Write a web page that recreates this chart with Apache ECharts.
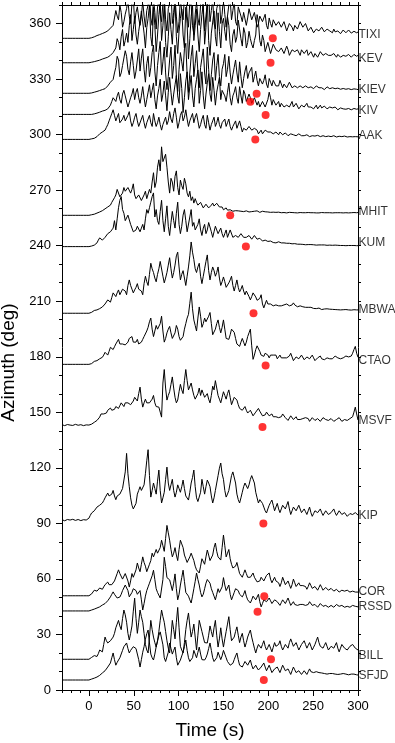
<!DOCTYPE html>
<html>
<head>
<meta charset="utf-8">
<script src="https://cdn.jsdelivr.net/npm/echarts@6/dist/echarts.min.js"></script>
<style>html,body{margin:0;padding:0;background:#fff}#c{width:395px;height:743px}</style>
</head>
<body>
<div id="c"></div>
<script>
// ---- data ----
const stations = ['TIXI','KEV','KIEV','KIV','AAK','MHIT','KUM','MBWA','CTAO','MSVF','KIP','COR','RSSD','BILL','SFJD'];
const stationAzimuth = [352.0,338.8,322.3,310.9,297.4,256.4,239.5,203.5,175.9,143.1,91.8,50.9,42.7,16.6,5.4];
const sampleStart = -30, sampleStep = 1.5, sampleCount = 221;

// envelope amplitude above each station's baseline (deg units), one value per 1.5 s from -30 s to 300 s
const offTIXI = [
0,0,0,0,0,0,0,0,0,0,0,0,0,0,0,0,0,0,0,0,
0,0.1,0.3,0.6,0.8,1.2,1.5,1.7,2,2.4,2.6,2.9,3.2,3.5,4,4.8,5.5,6.5,7,11,
15,12,10,18,14,6,9,13,16,21,12,8,19,23,8,14,17,11,7,12,
20,12,6,15,18,25,11,7,22,14,5,17,20,13,9,19,24,10,4,16,
19,26,8,14,22,12,3,9,21,15,10,23,25,12,6,20,18,7,2,13,
20,11,7,18,23,14,4,12,19,24,9,15,21,8,5,16,17,22,8,13,
22,13,6,12,18,21,10,15,20,9,7,17,16,12,9,14,14,7,11,16,
15,10,9,14,13,6,8,12,12,9,10,13,7,5,11,8,6,10,9,7,
7,9,10,6,5,9,8,4,6,8,9,6,4,7,7,5,5,9,8,6,
5,8,7,4,4,6,6,3,3.5,5,6,4,4,6,5,3.5,3,5,5,4,
4,3,5,3.5,3,4,4.5,2.5,3,4.5,4,3,3.5,4.5,4,2.8,3,3.8,3.5,3,
3.4];
const offKEV = [
0,0,0,0,0,0,0,0,0,0,0,0,0,0,0,0,0,0,0,0,
0,0.1,0.3,0.4,0.6,0.8,1,1.2,1.4,1.8,2,2.2,2.5,2.8,3,3.6,4,4.8,5.5,6.5,
8,13,11,7,14,18,9,12,16,11,20,26,12,18,25,15,10,17,22,28,
28,16,8,19,24,31,14,9,30,20,6,15,26,33,12,20,32,11,3,14,
27,18,10,24,33,14,5,17,24,29,15,8,30,21,2,13,25,31,12,20,
29,15,6,18,26,32,10,19,34,12,4,16,22,28,14,9,27,17,8,21,
24,17,12,25,20,10,6,15,18,11,14,23,22,13,9,19,16,8,11,17,
13,10,8,12,15,26,22,12,9,15,12,6,7,11,10,5,6,10,9,7,
8,6,5,8,9,5,6,9,7,4,4,7,8,6,5,7,6,4,7,8,
5,6,7,4,4,6,6,3,5,6,3,4,6,5,4,3,5,6,4,3,
4,3,5,4,3,4.5,4,3,3.5,4,5,3.5,3,4.5,4,3,3.5,4.5,4,3.5,
4];
const offKIEV = [
0,0,0,0,0,0,0,0,0,0,0,0,0,0,0,0,0,0,0,0,
0,0.1,0.2,0.4,0.6,0.8,1,1.2,1.5,1.8,2,2.2,2.5,3.2,4,5,6,6.8,7.5,11,
14,20,18,9,11,15,16,23,20,13,10,17,22,15,8,12,18,24,12,19,
24,13,6,16,20,9,14,22,26,12,4,15,22,28,10,17,25,11,2,9,
18,25,8,15,26,9,1,13,22,17,12,24,27,10,0.5,11,20,26,9,16,
23,12,3,14,19,24,11,5,25,13,1.5,10,18,22,7,15,21,9,4,13,
16,21,9,13,20,11,5,10,14,18,11,6,17,9,3,8,12,15,8,11,
10,14,6,9,12,7,4,8,9,5,7,10,5,3,8,6,4,7,6,4,
5,4,7,5,3,5,6,3,4,6,5,3,2.5,4,5,3,3,4,4.5,3,
3,4,5,3,2.5,3.5,4,2.5,3,4,4.5,3,2,3,3.5,2,2.5,3.5,3,2.5,
2.5,3,3.5,2.5,2,2.8,3,2.2,2,2.6,3,2.2,2,2.5,2.5,2,2,2.4,2,2.2,
2];
const offKIV = [
0,0,0,0,0,0,0,0,0,0,0,0,0,0,0,0,0,0,0,0,
0,0,0,0.1,0.3,0.5,0.7,1,1.2,1.5,1.8,2,2.2,2.6,3,4,5,7,9,8,
7,10,12,8,6,11,13,10,9,4,5,9,11,14,8,12,14,9,6,10,
15,9,4,8,12,16,9,13,17,8,3,10,14,19,7,11,18,10,2,12,
20,12,5,11,16,21,10,6,22,14,1,9,18,23,8,15,21,10,4,14,
19,24,6,13,23,10,3,11,17,22,11,7,20,13,5,12,16,20,8,13,
14,10,7,12,17,9,5,10,12,15,9,6,15,10,6,13,11,7,8,11,
9,6,5,9,10,5,7,4,4,7,8,4,3,8,12,9,5,8,7,5,
6,7,4,6,7,4,3,5,6,4,5,7,4,3,6,5,3,4,5,4,
4,5,6,4,3,4,5,3,4,5,3,4,5,3.5,3,4.5,4,3,3,4,
4,3.5,3,4,3.5,2.5,2.5,3.5,3,3,3.5,2.8,2.5,3.2,3,2.5,2.5,3.2,3,2.8,
3];
const offAAK = [
0,0,0,0,0,0,0,0,0,0,0,0,0,0,0,0,0,0,0,0,
0,0.1,0.3,0.4,0.6,1,1.5,2.2,3,3.6,4,4.4,5,6.5,8,10,12,14,16,13,
10,12,14,9,8,11,13,10,9,13,15,10,7,9,12,14,10,7,8,11,
13,9,6,9,11,13,9,7,14,10,7,9,12,8,5,8,10,12,8,10,
15,11,9,14,17,12,6,9,13,15,10,12,16,11,7,10,12,14,9,12,
14,10,6,8,11,13,8,6,13,9,5,8,10,12,7,9,12,8,6,9,
9,11,7,9,11,7,5,7,8,10,6,5,10,7,4,6,7,5,5,7,
6,5,4,6,7,5,3,4,5,3,4,5,6,4,3,4,4,3,3,4,
3,2.5,4,3,2.5,3,3.5,2.5,2,2.5,3,2.2,2.5,3,2,2.5,3,2.2,2,2.4,
2,2.2,2.5,1.8,1.5,1.9,2,1.6,1.8,2.1,2.2,1.7,1.5,1.8,2,1.6,1.5,1.9,1.8,1.6,
1.5,1.7,2,1.5,1.3,1.5,1.7,1.4,1.5,1.7,1.8,1.4,1.3,1.5,1.5,1.3,1.4,1.6,1.5,1.4,
1.4];
const offMHIT = [
0,0,0,0,0,0,0,0,0,0,0,0,0,0,0,0,0,0,0,0,
0,0.1,0.3,0.4,0.6,0.9,1.2,1.5,1.8,2.2,2.5,3,3.5,4,4.5,5,5.5,7,8,9.5,
11,14,13,10,10,12,15,13,12,15,16,12,14,17,11,9,8,11,10,8,
9,11,13,9,10,14,12,18,23,15,18,26,30,24,37,29,28,33,26,18,
12,20,18,13,21,24,15,11,19,16,14,20,17,12,10,13,8,10,6.6,9,
7,5.5,5,7,6,4,4.5,6,5.5,4,4,5.5,6.6,5,5,6.5,6,4.5,3.5,4.5,
3,3.5,4,2.8,2.5,3,3.5,2.2,1.8,2.5,3,2.4,2,2.2,2.5,2,1.8,2.4,2.2,1.8,
2.5,2,1.5,2.2,3,2.4,2,1.6,1.8,2.2,2.5,1.9,1.5,1.8,2.2,1.6,1.3,1.7,2,1.6,
1.5,1.7,1.8,1.4,1.2,1.5,1.6,1.3,1.4,1.6,1.8,1.5,1.2,1.4,1.5,1.3,1.3,1.5,1.6,1.4,
1.5,1.4,1.3,1.5,1.6,1.4,1.2,1.4,1.5,1.3,1.4,1.3,1.2,1.5,1.6,1.4,1.3,1.4,1.5,1.4,
1.4,1.3,1.2,1.4,1.5,1.4,1.3,1.4,1.4,1.3,1.2,1.4,1.5,1.3,1.3,1.4,1.4,1.5,1.5,1.4,
1.5];
const offKUM = [
0,0,0,0,0,0,0,0,0,0,0,0,0,0,0,0,0,0,0,0,
0,0.1,0.3,0.5,0.8,1.4,2,3.5,4.7,3.8,3.5,4.5,5,6,7,7.5,8,9,10,14,
9,15,21,25,27,20,18,14,13,17,16,12,10,8,7.4,9,11,10,8,10,
12,9,15,20,18,21,24,27,29,16,20,14,12,19,25,14,8,15,22,11,
6,13,19,14,10,18,24,12,7,11,17,20,14,8,9,16,20,11,13,9,
8,12,15,9,6,10,12,7,9,13,14,8,5,8,11,9,7,6,10,7,
5,7,9,5,6,9,8,5,4,6,7,5,5,7,8,5,6,5,4,6,
5,4,3.5,6,7,4,3,4.5,5,3,2.5,3.5,4,2.8,2,3,3,2.2,2.5,2,
2,2.6,3,2,1.5,2,2.5,1.8,1.5,1.8,2,1.5,1.2,1.6,1.8,1.3,1,1.3,1.5,1.2,
1.2,1,0.8,1.1,1.4,1.1,0.9,1,1.1,0.8,0.7,0.9,1,0.9,0.8,0.9,0.9,0.7,0.6,0.8,
0.8,0.7,0.6,0.8,0.9,0.7,0.5,0.6,0.7,0.6,0.6,0.5,0.5,0.6,0.7,0.6,0.5,0.6,0.6,0.5,
0.5];
const offMBWA = [
0,0,0,0,0,0,0,0,0,0,0,0,0,0,0,0,0,0,0,0,
0,0.2,0.5,1,1.5,1.4,1.8,2.2,2.5,3,3.4,4.2,5,6,7.2,6.5,6,8.5,11,10,
9,11,12.6,10,11,13,14,12,10,15,18,15,13,11,12.6,14,16,13,14,12,
10,16,20,17,15,21,27,24,22,19,17,21,24,28,29,20,16.4,19,22,26,
30,24,19,22,26,31,33,25,18,21,23,19,15,20,25,31,38.5,33,29,24,
22,25,27,20,16,20,24,28,31.5,23,18,22,25,23,20,22,25,19,15,17,
19.6,17,14,15,16.4,18,20,15,12,15,18,14,11.5,13,15,12,10,12,11,9,
7.2,9,11,10,8.8,7,6,8,10,5,2.9,5,7,5,4,5,6,4,3.5,4.5,
5,4,3,4,5,4.5,4,5,6,4,3,4.5,5.6,4.5,4,3.5,3,4,5,3.5,
2.5,3.2,4,3.2,2.9,3.2,3.5,2.6,2,2.5,3,2.8,2.5,2,1.8,2.3,2.8,2.4,2,2.2,
2.4,2.1,1.8,2,2.2,1.9,1.6,1.8,2,1.9,1.8,2,2.2,1.8,1.5,1.7,2,1.9,1.7,1.8,
1.8];
const offCTAO = [
0,0,0,0,0,0,0,0,0,0,0,0,0,0,0,0,0,0,0,0,
0,0.2,0.4,1,1.6,1.8,2,2.5,3,3.4,3.8,5,6.5,5.5,5,7,9.2,8.5,8,9.5,
11,12,13.5,11,10,11,12,10.5,9.7,12,14,13,15,12,11,12,13.5,11,10,12,
13.5,15,16,18,20,23,25,19,15,18,21,19,18,22,26,18,12,14,17,19,
20.5,17,14,15,17,21,19,15,13,14,15,19,22,25,27,33,39,30,24,21,
18,25,31,26,20,22,25,23,22.7,26,28,22,16,17,19,22,24,20,17,20,
24,19,14,13,13.5,16,19,18,17.3,14,11,10,9.7,12,14,12,10,12,15,17,
19,10,2.7,5,8,10,9.2,7,5,4,4.3,6,7,5,3.5,5,6,5,4,5,
3,4,5,3.5,2.5,3.5,4.5,3.5,3,4.5,6,4,2,3,4,3.5,3,4,5,4,
2.5,3,4,3.5,3,4,5,3.5,2,3,3.5,4,4.5,3,2,2.5,3,3.5,4,3,
2.5,3,3.5,4.5,5,3.5,2.5,3,4,3.5,3,4.5,5.5,4,3,4.5,6,8,9.7,6,
3.8];
const offMSVF = [
0.2,0,-0.3,0.1,0.3,0.1,0,-0.2,-0.2,0.1,0.4,0.2,-0.1,0,0.2,0,-0.3,-0.1,0.1,0,
0,0.2,0.5,1,1.5,2,2.5,3.5,4.3,6,7,6,5,6.5,8,8.5,9.2,8,7,8.5,
10,11,9,10.5,12,11,10,12,13,12,12.4,11,11,13,15,14,13,17,20.5,14,
9.7,12,14,12,11,12,12.4,14,16,12,10,11,9.7,7,4.3,22.7,30,20,13.5,16,
18,22,26,20,15,12,13.5,18,22,19,17,24,30,24,19,20,22.7,19,16,14,
13.5,17,20,16,19,17,15,16,17,14,12,16,21,19,24,20,16,14,12,15,
18,16,14,17,19,15,11,13,15,14,13.5,11,9,10,8,9,10,8,6.5,7,
8,6.5,5,6,7,8,9,7.5,6.5,5,4,5.5,7,6,5,5.5,6,4.5,3.5,4.5,
5,4,3,4.5,6,5,4,3,2.5,3.5,5,4,3,3.5,4.5,3,2,3,4,3.5,
3,4,5,3.5,2,3,4,3,2.5,3,3.5,2.5,2,3,4,3.5,3,2.5,2.5,3,
3.5,2.8,2,2.5,3,3.5,4,3,2,2.5,3,2.8,2.5,3,3.5,4,4.5,7,9.7,6,
2.7];
const offKIP = [
0.2,-0.1,-0.4,0,0.3,0.1,0,0.2,0.4,0.1,-0.2,0,0.3,0.1,-0.3,0,0.2,0.1,0,0.2,
1,2.5,3.8,4.5,5,6,7,7.5,8,8.8,9.2,10.5,12,13,14.6,13,12.4,14,16,13,
11,13,12.4,14,15,17,18,26,36,25,18,12,8,6,5.4,9,14,16,18,16,
15,19,25,32,38,24,12.4,16,20,17,14,21,27,16,9.2,12,15,22,28.6,20,
16,19,22,16,12.4,15,19,17,15,18,21.6,17,13,12,10.8,15,20,23,27,18,
12,10,9.2,15,22,18,14,18,21.6,20,18,13,9.2,12,16,20,24,28,30.8,25,
22,16,12.4,14,16,20,24,26,27,20,14,11,9.2,12,15,18,20,19,17,19,
22,24,25,20,15,12,9.2,11,12,9,7,5,3.8,6,8,9.5,10.8,8,5,6,
9,6,4,6,8,7,6,8,10,6,3,5,7,6,5,6.5,8,6,4,5,
6,4.5,3,5,7,4,2,3.5,5,4.5,4,5,6,4,2.5,3.5,5,4,3,3.5,
4,5,6,4,2.5,3.5,5,4,3,3.5,4,3,2,3,3.5,3,3,3.5,4,3,
2.7];
const offCOR = [
0,0,0,0,0,0,0,0,0,0,0,0,0,0,0,0,0,0,0,0,
0,0.5,1,2,3,2.8,2.5,3.4,4.2,3.8,3.5,4.8,6,6.8,7.4,6,5,6,6.9,8,
9,12,14,12,11,9,10,12,13,8,4.7,8,12,10,9,14,17.7,15,13,17,
21,18,16,13,14,17,19,23,21,20,25,23,22,26,30,27,24,31,38,34,
30,25,21,23,26,22,19,25,30,28,26,22,20,18,17.7,21,23,21,19,16,
14,13,12.3,16,20,19,17,21,24.7,22,19,20,22,26,28.5,24,21,20,19.3,26,
32.8,27,21,23,25,20,17,15,14,16,18,15,12,11,10,12,14,12,10,11,
10,11,12.3,10,9,7.5,6.9,8,10,9,8,9.5,11,12,12.3,9,7,8.5,10,8,
9,7,5,7,10,8,6,7,8,6,4,6,9,7,5,6,7,5.5,4.5,5.5,
6,5,3.5,5,7,5.5,4,4.5,5,4,3,4.5,6,4.5,3,3.5,4.5,4,3,3.5,
4,3.2,2.5,3,3.5,2.8,2,2.5,3,2.8,2.5,2.8,3,2.5,2,2.3,2.5,2.3,2,2.2,
2];
const offRSSD = [
0,0,0,0,0,0,0,0,0,0,0,0,0,0,0,0,0,0,0,0,
0,0.2,0.5,0.8,1,1.3,1.6,1.9,2.2,2.7,3.2,3.6,4,4.8,5.5,6.5,7.6,9,10.3,9,
8,7,6,7.5,9,11,12,14,15,11,7.6,8,10,12,13,11,9,10,11,6,
0.5,4,8,11,13,15,16,19,22,17,12,10,9,7,6,17,29,24,18,17,
16.8,14,11,15,20,12,6,9,14,18,22,16,10,9,8,6,4.3,8,12,16,
20.5,17,14,10,7.6,9,12,15,17,16,15,12,10,8,6,9,12,10,9,13,
18,14,11,12,14,9,6,8,10,12,13,11,9,8,7.6,9,11,8,6,5,
4.3,6,8,7,6,7.5,9,5,2.2,4,6,5.5,5,6,7,5.5,4,5,6,5,
5,4,3,4.5,6,5,4,5.5,7,5,3,4,5,3.5,2.5,3,4,3.5,3,3.5,
4,3,2.5,3.5,5,4,3,3.2,3.5,2.8,2,3,4,3,2.5,2.8,3,2.5,2,2.5,
3,2.5,2,2.8,3.5,3,2.5,2.8,3,2.5,2,2.2,2.5,2.2,2,2.5,3,2.8,2.5,2.3,
2.2];
const offBILL = [
0,0,0,0,0,0,0,0,0,0,0,0,0,0,0,0,0,0,0,0,
0,0.5,1,1.5,2,1.8,1.5,3,5,4.5,4,8,12,10,8.8,9.5,10,11,12,14,
17,19,21,18,16,22,26.6,24,20,14,10.4,14,18,26,33,22,14,20,26.6,23,
20,14,8,5,3.4,12,21,16,12,9,6.6,10,15,21,26.6,23,20,15,10,6,
3.4,12,21,16,11,20,28,17,7,5,3.4,9,16,21,25,18,12,15,19,12,
5,13,21,18,15,12,9,8,8.8,13,18,15,12,17,21,13,6.6,11,17,11,
6.6,11,15,19,23,16,10,11,12,15,17.5,13,9,12,14,10,6.6,9,12,14,
15.8,12,9,6,3.4,6,8,7,6,8,10,7,5,6.5,8,6,4,6.5,9,7,
6,8,10,7,5,6.5,8,7,6,9,11,9,7,8,9,7,5,6.5,8,7,
10,8,6,7.5,9,7,5,6.5,8,10,12,9,7,6,6,7.5,9,7,5,6,
7,6.5,6,7.5,9,6,4,6,8,7,6,5.5,5,6,7,7.5,8,7,6,5.5,
5];
const offSFJD = [
0,0,0,0,0,0,0,0,0,0,0,0,0,0,0,0,0,0,0,0,
0,0.2,0.5,0.8,1,1.3,1.6,2,2.5,3.2,3.8,4.4,5,6,7,8,9.2,12,14.6,11,
8,9.5,10.8,12,13,16,18,19,20,17,14.6,16,17,18,19,17,16,11,7,11,
15,18,22,25,27,20,14,12,10.8,14,18,21,24,26,27,19,12,10,9.2,15,
20,17,14,16,17.8,12,8,9,10.8,13,15,18,21.6,16,12,10,9.2,12,16,14,
12,15,17.8,14,11,10,10.8,12,14,17,20,16,12,10,9.2,12,15,13,11,13,
16,14,12,10,9,8,7,9,11,13,14.6,11,8,7.5,7,8.5,10,9,8,9,
10.8,8,6,7,8,6.5,5.4,6,7,8,9.2,7,5,6.5,8,6,4,5,6,6.5,
7,5.5,4,6,8,6.5,5,5.5,6,4.5,3,5,7,5.5,4,4.5,5,4,3,4,
5,4,3,4.5,6,4.5,3.5,4,4,4.5,5,4,3,3.8,4.5,3.5,2.5,3.2,4,3.5,
3,3.5,4,3.2,2.5,3,3.5,3.2,3,3.5,4,3.2,2.5,2.8,3,3.2,3.5,3.2,3,2.8,
2.7];
const stationOffsets = [offTIXI,offKEV,offKIEV,offKIV,offAAK,offMHIT,offKUM,offMBWA,offCTAO,offMSVF,offKIP,offCOR,offRSSD,offBILL,offSFJD];

// red picks (time s, azimuth deg)
const pickTime = [205,202.5,187,180,197,185.5,157.5,175,183.5,197,193.5,194.5,195.5,188,203,195];
const pickAzimuth = [352,338.8,322.1,317.8,310.6,297.4,256.4,239.5,203.5,175.3,142,90,50.6,42.3,16.6,5.4];

// axis ticks / labels
const xTickLabels = [0,50,100,150,200,250,300];
const xMinorTicks = [-30,-20,-10,0,10,20,30,40,50,60,70,80,90,100,110,120,130,140,150,160,170,180,190,200,210,220,230,240,250,260,270,280,290,300];
const yTickLabels = [0,30,60,90,120,150,180,210,240,270,300,330,360];
const yMinorTicks = [0,10,20,30,40,50,60,70,80,90,100,110,120,130,140,150,160,170,180,190,200,210,220,230,240,250,260,270,280,290,300,310,320,330,340,350,360,370];
const tMin = -30, tMax = 300, azMin = 0, azMax = 370;

// ---- build ----
const FONT = 'Liberation Sans, Arial, Helvetica, sans-serif';
const times = [];
for (let i = 0; i < sampleCount; i++) times.push(sampleStart + sampleStep * i);

const series = stations.map((name, k) => ({
  type: 'line', name, xAxisIndex: 0, yAxisIndex: 0,
  data: times.map((t, i) => [t, stationAzimuth[k] + stationOffsets[k][i]]),
  symbol: 'none', clip: true, animation: false, silent: true,
  lineStyle: { color: '#000', width: 1 }, z: 2
}));
series.push({
  type: 'scatter', xAxisIndex: 0, yAxisIndex: 0, animation: false, silent: true,
  data: stations.map((n, k) => [tMax, stationAzimuth[k], n]),
  symbolSize: 1, itemStyle: { color: 'rgba(0,0,0,0)' },
  label: { show: true, position: 'right', distance: 0, offset: [0, -4],
    formatter: p => p.data[2], color: '#000', fontSize: 12, fontFamily: FONT },
  z: 3, clip: false
});
series.push({
  type: 'scatter', xAxisIndex: 0, yAxisIndex: 0, animation: false, silent: true,
  data: pickTime.map((t, i) => [t, pickAzimuth[i]]),
  symbol: 'circle', symbolSize: 8, itemStyle: { color: '#ff0000' }, z: 5
});

const blk = { color: '#000', width: 1 };
const option = {
  animation: false,
  backgroundColor: '#fff',
  grid: [
    { left: 62, top: 5, width: 296, height: 685, outerBoundsMode: 'none', containLabel: false },
    { left: 62, top: 5, width: 296, height: 685, outerBoundsMode: 'none', containLabel: false }
  ],
  xAxis: [
    { type: 'value', gridIndex: 0, position: 'bottom', min: tMin, max: tMax,
      axisLine: { show: true, onZero: false, lineStyle: blk },
      axisTick: { show: true, customValues: xMinorTicks, length: 3, lineStyle: blk },
      axisLabel: { customValues: xTickLabels, color: '#000', fontSize: 13, fontFamily: FONT, margin: 10 },
      splitLine: { show: false },
      name: 'Time (s)', nameLocation: 'middle', nameGap: 31,
      nameTextStyle: { color: '#000', fontSize: 19, fontFamily: FONT } },
    { type: 'value', gridIndex: 0, position: 'top', min: tMin, max: tMax,
      axisLine: { show: true, onZero: false, lineStyle: blk },
      axisTick: { show: true, customValues: xMinorTicks, length: 3, lineStyle: blk },
      axisLabel: { show: false }, splitLine: { show: false } },
    { type: 'value', gridIndex: 1, position: 'bottom', min: tMin, max: tMax,
      axisLine: { show: false, onZero: false },
      axisTick: { show: true, customValues: xTickLabels, length: 6, lineStyle: blk },
      axisLabel: { show: false }, splitLine: { show: false } }
  ],
  yAxis: [
    { type: 'value', gridIndex: 0, position: 'left', min: azMin, max: azMax,
      axisLine: { show: true, onZero: false, lineStyle: blk },
      axisTick: { show: true, customValues: yMinorTicks, length: 3, lineStyle: blk },
      axisLabel: { customValues: yTickLabels, color: '#000', fontSize: 13, fontFamily: FONT, margin: 11 },
      splitLine: { show: false },
      name: 'Azimuth (deg)', nameLocation: 'middle', nameGap: 42, nameRotate: 90,
      nameTextStyle: { color: '#000', fontSize: 19, fontFamily: FONT, padding: [0, 30, 0, 0] } },
    { type: 'value', gridIndex: 0, position: 'right', min: azMin, max: azMax,
      axisLine: { show: true, onZero: false, lineStyle: blk },
      axisTick: { show: true, customValues: yMinorTicks, length: 3, lineStyle: blk },
      axisLabel: { show: false }, splitLine: { show: false } },
    { type: 'value', gridIndex: 1, position: 'left', min: azMin, max: azMax,
      axisLine: { show: false, onZero: false },
      axisTick: { show: true, customValues: yTickLabels, length: 6, lineStyle: blk },
      axisLabel: { show: false }, splitLine: { show: false } }
  ],
  series
};
const chart = echarts.init(document.getElementById('c'), null, { renderer: 'canvas' });
chart.setOption(option);
</script>
</body>
</html>
